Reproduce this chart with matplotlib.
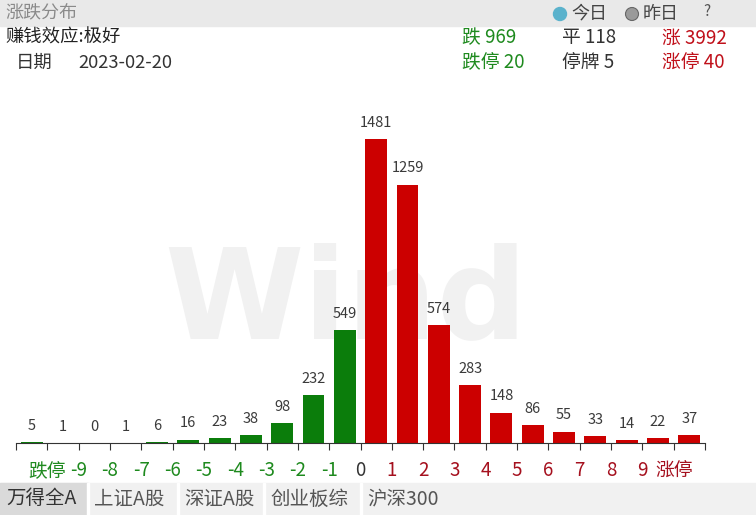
import matplotlib.pyplot as plt
from matplotlib.patches import Rectangle, Ellipse

plt.rcParams['font.family'] = ['Noto Sans CJK SC', 'DejaVu Sans']

# data
bins = ['跌停', '-9', '-8', '-7', '-6', '-5', '-4', '-3', '-2', '-1', '0',
        '1', '2', '3', '4', '5', '6', '7', '8', '9', '涨停']
counts = [5, 1, 0, 1, 6, 16, 23, 38, 98, 232, 549,
          1481, 1259, 574, 283, 148, 86, 55, 33, 14, 22, 37]
n_down = 11  # first bars are green
summary_row1 = [('跌 969', '#1e8a1e'), ('平 118', '#333333'), ('涨 3992', '#c0101a')]
summary_row2 = [('跌停 20', '#1e8a1e'), ('停牌 5', '#333333'), ('涨停 40', '#c0101a')]
tabs = ['万得全A', '上证A股', '深证A股', '创业板综', '沪深300']

W, H = 756, 515
fig = plt.figure(figsize=(W / 100, H / 100), dpi=100)


def fx(px):
    return px / W


def fy(py):
    return 1 - py / H


# header bar
fig.patches.append(Rectangle((0, fy(26)), 1, 26 / H, transform=fig.transFigure,
                             color='#e9e9e9', zorder=0))
fig.text(fx(5), fy(13), '涨跌分布', fontsize=13, color='#8a8a8a', va='center')
fig.patches.append(Ellipse((fx(560), fy(14)), 13 / W, 13 / H, transform=fig.transFigure,
                           color='#5ab2cc', zorder=1))
fig.text(fx(571), fy(14), '今日', fontsize=13, color='#444444', va='center')
fig.patches.append(Ellipse((fx(632), fy(14)), 13 / W, 13 / H, transform=fig.transFigure,
                           fc='#9a9a9a', ec='#666666', lw=0.8, zorder=1))
fig.text(fx(643), fy(14), '昨日', fontsize=13, color='#444444', va='center')
fig.text(fx(703), fy(12), '?', fontsize=11, color='#555555', va='center')

# info lines
fig.text(fx(5), fy(38), '赚钱效应:极好', fontsize=13.2, color='#222222', va='center')
fig.text(fx(16), fy(63), '日期', fontsize=13.2, color='#333333', va='center')
fig.text(fx(78), fy(63), '2023-02-20', fontsize=13.2, color='#333333', va='center')
for (txt, col), x in zip(summary_row1, [462, 562, 662]):
    fig.text(fx(x), fy(38), txt, fontsize=13.5, color=col, va='center')
for (txt, col), x in zip(summary_row2, [462, 562, 662]):
    fig.text(fx(x), fy(62), txt, fontsize=13.5, color=col, va='center')

# bar chart
ax = fig.add_axes([fx(16), (H - 443) / H, 689 / W, 343 / H])
ax.patch.set_alpha(0)
ax.set_zorder(2)
xs = [i + 0.5 for i in range(len(counts))]
colors = ['#0b7d0b'] * n_down + ['#cc0000'] * (len(counts) - n_down)
ax.bar(xs, counts, width=0.7, color=colors, zorder=2)
for x, v in zip(xs, counts):
    ax.text(x, v + 45, str(v), ha='center', va='bottom', fontsize=10.5, color='#3a3a3a')
ax.set_xlim(0, len(counts))
ax.set_ylim(0, 1671)
ax.set_yticks([])
for s in ['top', 'left', 'right']:
    ax.spines[s].set_visible(False)
ax.spines['bottom'].set_color('#333333')
ax.set_xticks(range(len(counts) + 1))
ax.set_xticklabels([''] + bins + [''], fontsize=13.5)
ax.tick_params(axis='x', length=5, color='#333333', pad=7)
for i, lbl in enumerate(ax.get_xticklabels()):
    if 1 <= i <= 10:
        lbl.set_color('#1e8a1e')
    elif i == 11:
        lbl.set_color('#333333')
    else:
        lbl.set_color('#a5101e')

# watermark, behind the bars
fig.text(fx(346), fy(303), 'Wind', fontsize=91, fontweight='bold', color='#f1f1f1',
         ha='center', va='center', family='DejaVu Sans', zorder=0)

# tab bar
fig.patches.append(Rectangle((0, 0), 1, 32 / H, transform=fig.transFigure,
                             color='#f1f1f1', zorder=0))
tab_edges = [0, 88, 178, 264, 361, 460]
for i, name in enumerate(tabs):
    x0, x1 = tab_edges[i], tab_edges[i + 1]
    if i == 0:
        fig.patches.append(Rectangle((fx(x0), 0), (x1 - x0) / W, 32 / H,
                                     transform=fig.transFigure, color='#dadada', zorder=0))
    if i > 0:
        fig.patches.append(Rectangle((fx(x0 - 1), 0), 1.5 / W, 32 / H,
                                     transform=fig.transFigure, color='#ffffff', zorder=1))
    fig.text(fx(x0 + 6), fy(499), name, fontsize=14,
             color='#333333' if i == 0 else '#555555', va='center')

fig.savefig('out.png', dpi=100)
